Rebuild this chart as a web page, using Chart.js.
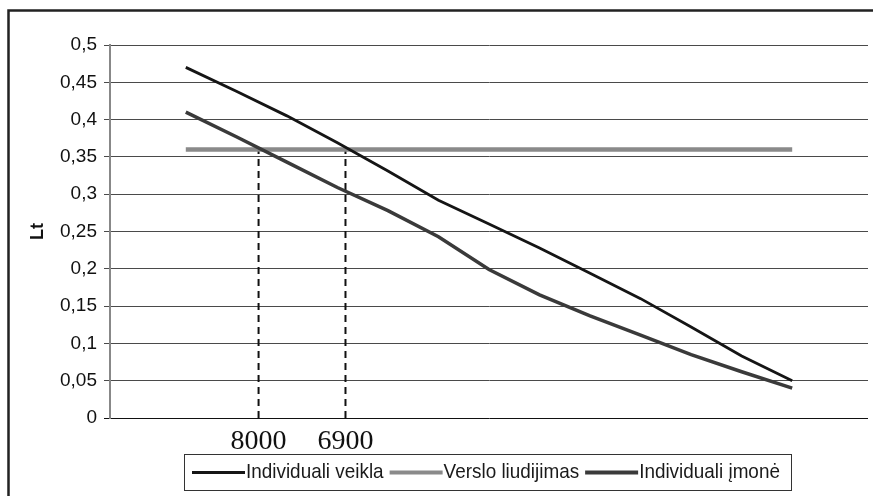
<!DOCTYPE html>
<html>
<head>
<meta charset="utf-8">
<script src="https://cdn.jsdelivr.net/npm/chart.js@4/dist/chart.umd.min.js"></script>
<style>
  html, body { margin: 0; padding: 0; background: #fff; }
  #wrap { width: 873px; height: 496px; position: relative; }
</style>
</head>
<body>
<div id="wrap"><canvas id="c" width="873" height="496"></canvas></div>
<script>
// Income steps along the horizontal axis (unlabelled positions)
const steps = [0, 1, 2, 3, 4, 5, 6, 7, 8, 9, 10, 11, 12];

// Tax per unit of income, Lt
const individualiVeikla = [0.47, 0.438, 0.405, 0.369, 0.331, 0.292, 0.260, 0.228, 0.194, 0.160, 0.122, 0.083, 0.050];
const versloLiudijimas  = [0.36, 0.36, 0.36, 0.36, 0.36, 0.36, 0.36, 0.36, 0.36, 0.36, 0.36, 0.36, 0.36];
const individualiImone  = [0.41, 0.377, 0.343, 0.309, 0.278, 0.243, 0.199, 0.165, 0.137, 0.111, 0.085, 0.062, 0.040];

const seriesNames = ['Individuali veikla', 'Verslo liudijimas', 'Individuali įmonė'];

// Break-even points against the business certificate
const markerSteps  = [1.44, 3.16];
const markerLabels = ['8000', '6900'];
const markerLevel  = 0.36;

const yMin = 0, yMax = 0.5, yStep = 0.05;

const toPoints = arr => arr.map((v, i) => ({ x: steps[i], y: v }));

const seriesStyle = [
  { color: '#151515', width: 2.8, sample: 3 },
  { color: '#8a8a8a', width: 4.5, sample: 4 },
  { color: '#3a3a3a', width: 3.5, sample: 4 }
];

const datasets = [
  { label: seriesNames[0], data: toPoints(individualiVeikla), borderColor: seriesStyle[0].color, borderWidth: seriesStyle[0].width, order: 1 },
  { label: seriesNames[2], data: toPoints(individualiImone),  borderColor: seriesStyle[2].color, borderWidth: seriesStyle[2].width, order: 2 },
  { label: seriesNames[1], data: toPoints(versloLiudijimas),  borderColor: seriesStyle[1].color, borderWidth: seriesStyle[1].width, order: 3 }
];
markerSteps.forEach(s => {
  datasets.push({
    label: '',
    data: [{ x: s, y: 0 }, { x: s, y: markerLevel }],
    borderColor: '#111', borderWidth: 2, borderDash: [7, 5], order: 4
  });
});
datasets.forEach(d => { d.pointRadius = 0; d.fill = false; d.tension = 0; d.borderCapStyle = 'butt'; });

// Frame and boxed legend below the plot
const decorations = {
  id: 'decorations',
  afterDraw(chart) {
    const ctx = chart.ctx;
    ctx.save();
    ctx.strokeStyle = '#222';
    ctx.lineWidth = 2.5;
    ctx.beginPath();
    ctx.moveTo(8.5, 496);
    ctx.lineTo(8.5, 10.5);
    ctx.lineTo(873, 10.5);
    ctx.stroke();

    ctx.lineWidth = 1;
    ctx.strokeStyle = '#333';
    ctx.strokeRect(184.5, 454.5, 607, 36);

    const order = [0, 1, 2];
    const ly = 472.5;
    let x = 192;
    ctx.font = '21px "Liberation Sans", Arial, sans-serif';
    ctx.textBaseline = 'middle';
    ctx.fillStyle = '#1a1a1a';
    order.forEach(i => {
      const st = seriesStyle[i];
      ctx.strokeStyle = st.color;
      ctx.lineWidth = st.sample;
      ctx.beginPath();
      ctx.moveTo(x, ly);
      ctx.lineTo(x + 53, ly);
      ctx.stroke();
      x += 54;
      const w = ctx.measureText(seriesNames[i]).width * 0.9;
      ctx.save();
      ctx.translate(x, ly);
      ctx.scale(0.9, 1);
      ctx.fillText(seriesNames[i], 0, 0);
      ctx.restore();
      x += w + 6;
    });
    ctx.restore();
  }
};

new Chart(document.getElementById('c'), {
  type: 'line',
  data: { datasets },
  options: {
    responsive: false,
    animation: false,
    layout: { padding: { top: 45, right: 5, bottom: 0, left: 0 } },
    plugins: { legend: { display: false }, tooltip: { enabled: false } },
    scales: {
      x: {
        type: 'linear',
        min: -1.5,
        max: 13.5,
        grid: { display: false },
        border: { display: false },
        afterBuildTicks: scale => { scale.ticks = markerSteps.map(v => ({ value: v })); },
        afterFit: scale => { scale.height = 78; },
        ticks: {
          autoSkip: false,
          maxRotation: 0,
          padding: -1,
          color: '#111',
          font: { family: '"Liberation Serif", "Times New Roman", serif', size: 28 },
          callback: (v, i) => markerLabels[i]
        }
      },
      y: {
        min: yMin,
        max: yMax,
        afterFit: scale => { scale.width = 110; },
        grid: {
          color: c => (c.tick && c.tick.value === 0 ? '#111' : '#4a4a4a'),
          lineWidth: 1,
          tickLength: 6,
          drawTicks: true
        },
        border: { color: '#888', width: 2 },
        ticks: {
          stepSize: yStep,
          padding: 7,
          color: '#111',
          font: { family: '"Liberation Sans", Arial, sans-serif', size: 19 },
          callback: v => String(Number(v.toFixed(2))).replace('.', ',')
        },
        title: {
          display: true,
          text: 'Lt',
          color: '#111',
          padding: { top: 27, bottom: 0 },
          font: { family: '"Liberation Sans", Arial, sans-serif', size: 18, weight: 'bold' }
        }
      }
    }
  },
  plugins: [decorations]
});
</script>
</body>
</html>
